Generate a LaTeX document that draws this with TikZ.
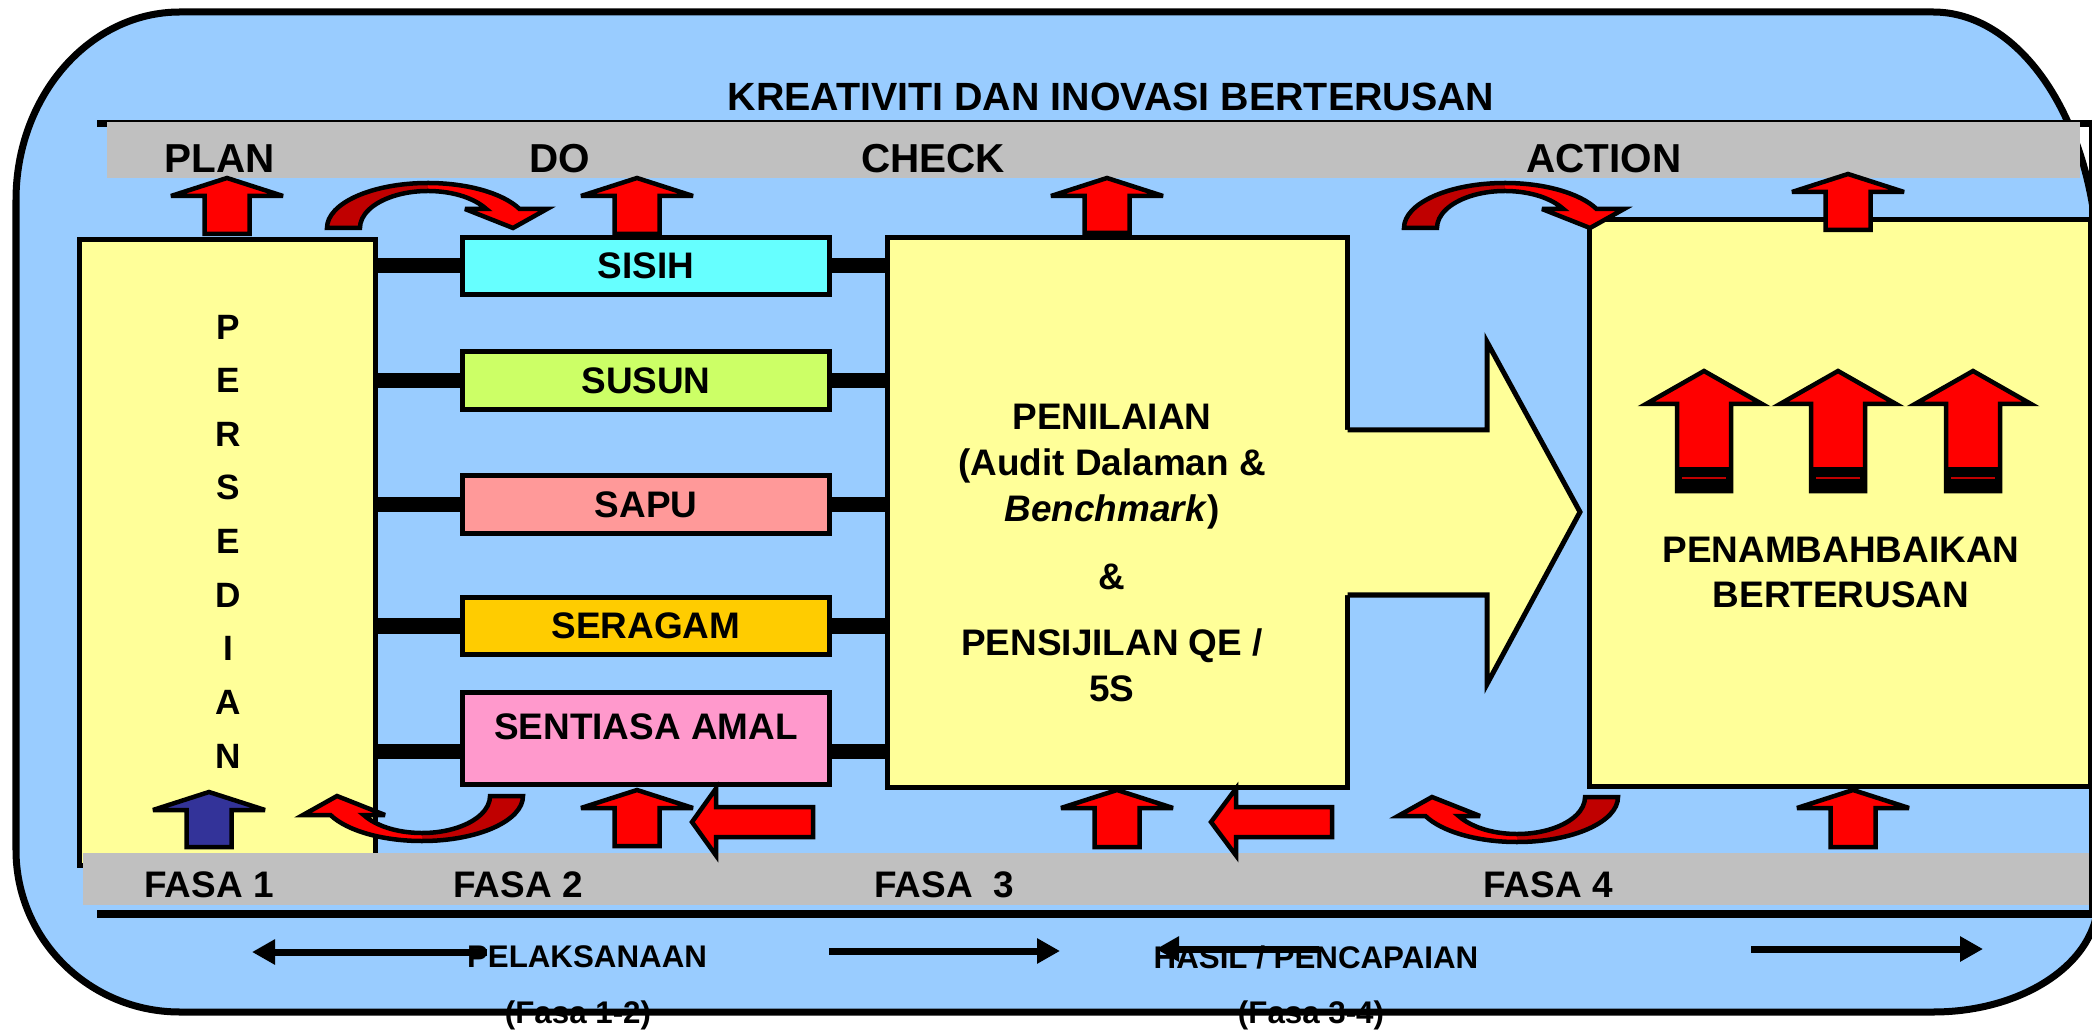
\documentclass[tikz,border=0pt]{standalone}
\usepackage{fontspec}
\setmainfont{Liberation Sans}
\usepackage{xcolor}
\usepackage{tikz}
\usetikzlibrary{calc}
\usetikzlibrary{arrows.meta}
\usetikzlibrary{positioning}

\definecolor{skyblue}{HTML}{99CCFF}
\definecolor{paleyellow}{HTML}{FFFF99}
\definecolor{bandgray}{HTML}{C0C0C0}
\definecolor{arrowred}{HTML}{FF0000}
\definecolor{darkred}{HTML}{C00000}
\definecolor{navyblue}{HTML}{333399}
\definecolor{sisihcol}{HTML}{66FFFF}
\definecolor{susuncol}{HTML}{CCFF66}
\definecolor{sapucol}{HTML}{FF9999}
\definecolor{seragamcol}{HTML}{FFCC00}
\definecolor{amalcol}{HTML}{FF99CC}

\tikzset{
  sbox/.style={rectangle, draw=black, line width=0.05cm, minimum width=3.66cm, minimum height=0.57cm, inner sep=0pt, font=\fontsize{10.5}{12.6}\selectfont\bfseries},
  bigbox/.style={rectangle, draw=black, line width=0.05cm, fill=paleyellow, inner sep=0pt},
  txt/.style={font=\fontsize{10.5}{13.1}\selectfont\bfseries, inner sep=0pt},
  phase/.style={font=\fontsize{11.5}{13.8}\selectfont\bfseries, inner sep=0pt},
  headline/.style={font=\fontsize{11.2}{13.4}\selectfont\bfseries, inner sep=0pt},
  small/.style={font=\fontsize{8.9}{10.7}\selectfont\bfseries, inner sep=0pt},
  bar/.style={line width=0.15cm},
  blockarrow/.style={draw=black, line width=0.045cm, line join=miter, miter limit=4},
  timeline/.style={line width=0.07cm, -{Triangle[length=0.23cm, width=0.24cm]}}
}

% upright block arrow: [fill]{x}{tip}{bottom}{half head}{half shaft}{head height}
\newcommand{\blockup}[7][arrowred]{%
  \draw[blockarrow, fill=#1] (#2,#3) -- (#2+#5,#3+#7) -- (#2+#6,#3+#7) -- (#2+#6,#4)
    -- (#2-#6,#4) -- (#2-#6,#3+#7) -- (#2-#5,#3+#7) -- cycle;}
% left block arrow: {tip x}{y}{head back x}{end x}
\newcommand{\blockleft}[4]{%
  \draw[blockarrow, fill=arrowred] (#1,#2) -- (#3,#2-33.5) -- (#3,#2-15) -- (#4,#2-15)
    -- (#4,#2+15) -- (#3,#2+15) -- (#3,#2+33.5) -- cycle;}
% big arrow in the action box
\newcommand{\bigup}[1]{%
  \blockup{#1}{371}{491}{58}{27}{33}
  \fill[black] (#1-29,467) rectangle (#1+29,493);
  \draw[darkred, line width=0.02cm] (#1-22,478) -- (#1+22,478);}
% curved u-turn arrow: {x}{y}{rotation}
\newcommand{\curvarr}[3]{%
  \begin{scope}[shift={(#1,#2)}, rotate=#3]
    \fill[darkred] (-101,0) arc[start angle=180, end angle=335, x radius=101, y radius=45]
      -- (119,-19) -- (85,0) -- (37,-19) -- (58.3,-19)
      arc[start angle=329.1, end angle=180, x radius=68, y radius=37] -- cycle;
    \begin{scope}
      \clip (0,-60) rectangle (135,10);
      \fill[arrowred] (-101,0) arc[start angle=180, end angle=335, x radius=101, y radius=45]
        -- (119,-19) -- (85,0) -- (37,-19) -- (58.3,-19)
        arc[start angle=329.1, end angle=180, x radius=68, y radius=37] -- cycle;
    \end{scope}
    \draw[blockarrow] (-101,0) arc[start angle=180, end angle=335, x radius=101, y radius=45]
      -- (119,-19) -- (85,0) -- (37,-19) -- (58.3,-19)
      arc[start angle=329.1, end angle=180, x radius=68, y radius=37] -- cycle;
  \end{scope}}

\begin{document}
\begin{tikzpicture}[x=0.01cm, y=-0.01cm]
 \useasboundingbox (0,0) rectangle (2092,1034);
 % frame
 \draw[line width=0.07cm, fill=skyblue] (180,12) -- (1933,12)
   arc[start angle=270, end angle=360, x radius=165, y radius=260] -- (2098,900)
   arc[start angle=0, end angle=90, x radius=165, y radius=112] -- (180,1012)
   arc[start angle=90, end angle=180, x radius=164, y radius=162] -- (16,200)
   arc[start angle=180, end angle=270, x radius=164, y radius=188] -- cycle;

 % top band
 \draw[line width=0.07cm] (97,123.5) -- (2092,123.5);
 \fill[bandgray] (107,122) rectangle (2080,178);
 \node[headline] (title) at (1111,97) {KREATIVITI DAN INOVASI BERTERUSAN};
 \node[phase] (plan) at (220,159) {PLAN};
 \node[phase] (do) at (560,159) {DO};
 \node[phase] (chk) at (933,159) {CHECK};
 \node[phase] (act) at (1604,159) {ACTION};

 % boxes
 \node[bigbox, minimum width=2.96cm, minimum height=6.26cm] (persed) at (227.5,552.5) {};
 \node[txt, font=\fontsize{10}{15.25}\selectfont\bfseries, align=center] (persedtxt) at (228,541.5)
   {P\\E\\R\\S\\E\\D\\I\\A\\N};
 \node[sbox, fill=sisihcol] (sisih) at (646,266) {SISIH};
 \node[sbox, fill=susuncol] (susun) at (646,380.5) {SUSUN};
 \node[sbox, fill=sapucol] (sapu) at (646,504.5) {SAPU};
 \node[sbox, fill=seragamcol] (seragam) at (646,626) {SERAGAM};
 \node[sbox, fill=amalcol, minimum height=0.92cm, text depth=0.24cm] (amal) at (646,738.5) {SENTIASA AMAL};
 \node[bigbox, minimum width=4.6cm, minimum height=5.5cm] (check) at (1117.5,512.5) {};
 \fill[paleyellow] (1345,430) -- (1487,430) -- (1487,342) -- (1580,512) -- (1487,684) -- (1487,595) -- (1345,595) -- cycle;
 \draw[line width=0.05cm] (1347.5,430) -- (1487,430) -- (1487,342) -- (1580,512) -- (1487,684) -- (1487,595) -- (1347.5,595);
 \node[txt, align=center] (checktxt) at (1112,553)
   {PENILAIAN\\(Audit Dalaman \&\\\textit{Benchmark})\\[0.21cm]\&\\[0.2cm]PENSIJILAN QE /\\5S};
 \node[bigbox, minimum width=5.005cm, minimum height=5.67cm] (action) at (1839.75,503) {};
 \node[txt, font=\fontsize{10.5}{12.8}\selectfont\bfseries, align=center] (actiontxt) at (1841,572.5)
   {PENAMBAHBAIKAN\\BERTERUSAN};

 % bars
 \coordinate (amalbar) at ([yshift=-0.125cm]amal.west);
 \coordinate (amalbarr) at ([yshift=-0.125cm]amal.east);
 \draw[bar] (persed.east |- sisih.west) to (sisih.west);
 \draw[bar] (persed.east |- susun.west) to (susun.west);
 \draw[bar] (persed.east |- sapu.west) to (sapu.west);
 \draw[bar] (persed.east |- seragam.west) to (seragam.west);
 \draw[bar] (persed.east |- amalbar) to (amalbar);
 \draw[bar] (sisih.east) to (check.west |- sisih.east);
 \draw[bar] (susun.east) to (check.west |- susun.east);
 \draw[bar] (sapu.east) to (check.west |- sapu.east);
 \draw[bar] (seragam.east) to (check.west |- seragam.east);
 \draw[bar] (amalbarr) to (check.west |- amalbarr);

 % bottom band
 \fill[bandgray] (83,853) rectangle (2092,905);
 \draw[line width=0.08cm] (97,914) -- (2092,914);
 \draw[line width=0.03cm] (2090,120) -- (2090,914);
 \node[txt] (fasa1) at (209,885) {FASA 1};
 \node[txt] (fasa2) at (518,885) {FASA 2};
 \node[txt] (fasa3) at (944,885) {FASA\ \ 3};
 \node[txt] (fasa4) at (1548,885) {FASA 4};

 % block arrows
 \blockup{227}{178}{234}{56}{22.5}{18}
 \blockup{637}{178}{234}{56}{22.5}{18}
 \blockup{1107}{178}{233}{56}{22.5}{18}
 \blockup{1848}{174}{230}{56}{22.5}{18}
 \blockup[navyblue]{209}{792}{847}{56}{22.5}{18}
 \blockup{637}{790}{846}{56}{22.5}{18}
 \blockup{1117}{790}{847}{56}{22.5}{18}
 \blockup{1853}{790}{847}{56}{22.5}{18}
 \blockleft{692}{822}{716}{813}
 \blockleft{1211}{822}{1236}{1332}
 \bigup{1704}
 \bigup{1838}
 \bigup{1973}
 \curvarr{428}{228}{0}
 \curvarr{1505}{228}{0}
 \curvarr{422}{796}{180}
 \curvarr{1517}{797}{180}

 % timeline
 \node[small] (pelak) at (587,957) {PELAKSANAAN};
 \node[small] (hasil) at (1316,957) {HASIL / PENCAPAIAN};
 \node[small] (fasa12) at (578,1015) {(Fasa 1-2)};
 \node[small] (fasa34) at (1311,1015) {(Fasa 3-4)};
 \coordinate (t1a) at (487,952);
 \coordinate (t1b) at (252,952);
 \coordinate (t2a) at (829,951);
 \coordinate (t2b) at (1060,951);
 \coordinate (t3a) at (1319,949);
 \coordinate (t3b) at (1156,949);
 \coordinate (t4a) at (1751,949);
 \coordinate (t4b) at (1983,949);
 \draw[timeline] (t1a) to (t1b);
 \draw[timeline] (t2a) to (t2b);
 \draw[timeline] (t3a) to (t3b);
 \draw[timeline] (t4a) to (t4b);
\end{tikzpicture}
\end{document}
